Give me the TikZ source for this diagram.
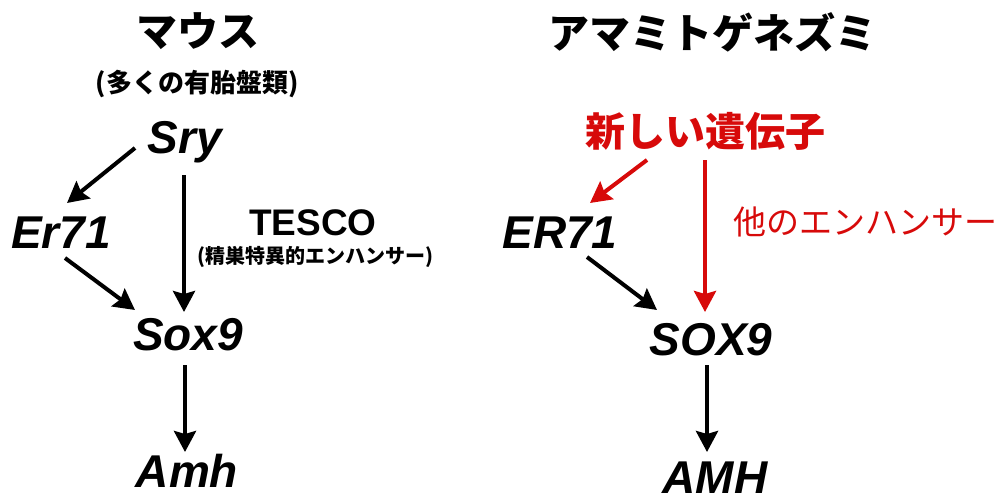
\documentclass[tikz,border=0pt]{standalone}
\usepackage{fontspec}
\setmainfont{Liberation Sans}
\newfontfamily\jp{Noto Sans CJK JP}
\usetikzlibrary{arrows.meta,calc}
\definecolor{myred}{RGB}{215,10,10}
\begin{document}
\begin{tikzpicture}[x=1pt,y=-1pt,
  gene/.style={inner sep=0pt,anchor=base,font=\fontsize{46}{46}\selectfont\bfseries\itshape},
  ttl/.style={inner sep=0pt,font=\jp\bfseries\fontsize{41}{41}\selectfont},
  arr/.style={line width=4pt,-{Stealth[length=21pt,width=22pt,inset=3pt]}},
  rarr/.style={arr,draw=myred,color=myred}]
\useasboundingbox (0,0) rectangle (1003,500);
% left panel
\node[ttl] (mouse) at (198,31) {マウス};
\node[inner sep=0pt,font=\jp\bfseries\fontsize{26}{26}\selectfont] (mousesub) at (197,84) {(多くの有胎盤類)};
\node[gene] (sry) at (185,153) {Sry};
\node[gene] (er71) at (61,248) {Er71};
\node[gene] (sox9) at (188,350) {Sox9};
\node[gene] (amh) at (187,487) {Amh};
\node[inner sep=0pt,anchor=base,font=\fontsize{37}{37}\selectfont\bfseries] (tesco) at (313,235) {TESCO};
\node[inner sep=0pt,font=\jp\bfseries\fontsize{20}{20}\selectfont] (tescosub) at (315,257) {(精巣特異的エンハンサー)};
\draw[arr] ($(sry.base)+(-50,-5)$) -- ($(er71.base)+(6,-45)$);
\draw[arr] ($(sry.base)+(-1,22)$) -- ($(sox9.base)+(-4,-38)$);
\draw[arr] ($(er71.base)+(4,10)$) -- ($(sox9.base)+(-53,-40)$);
\draw[arr] ($(sox9.base)+(-3,15)$) -- ($(amh.base)+(-2,-35)$);
% right panel
\node[ttl] (rat) at (712,32) {アマミトゲネズミ};
\node[inner sep=0pt,text=myred,font=\jp\bfseries\fontsize{40}{40}\selectfont] (newgene) at (705,131) {新しい遺伝子};
\node[gene] (er71b) at (560,248) {ER71};
\node[gene] (sox9b) at (711,355) {SOX9};
\node[gene] (amhb) at (715,493) {AMH};
\node[inner sep=0pt,text=myred,font=\jp\fontsize{33}{33}\selectfont] (other) at (865,222) {他のエンハンサー};
\draw[rarr] ($(newgene.center)+(-58,29)$) -- ($(er71b.base)+(30,-45)$);
\draw[rarr] ($(newgene.center)+(0,29)$) -- ($(sox9b.base)+(-6,-43)$);
\draw[arr] ($(er71b.base)+(27,9)$) -- ($(sox9b.base)+(-54,-45)$);
\draw[arr] ($(sox9b.base)+(-4,10)$) -- ($(amhb.base)+(-8,-41)$);
\end{tikzpicture}
\end{document}
